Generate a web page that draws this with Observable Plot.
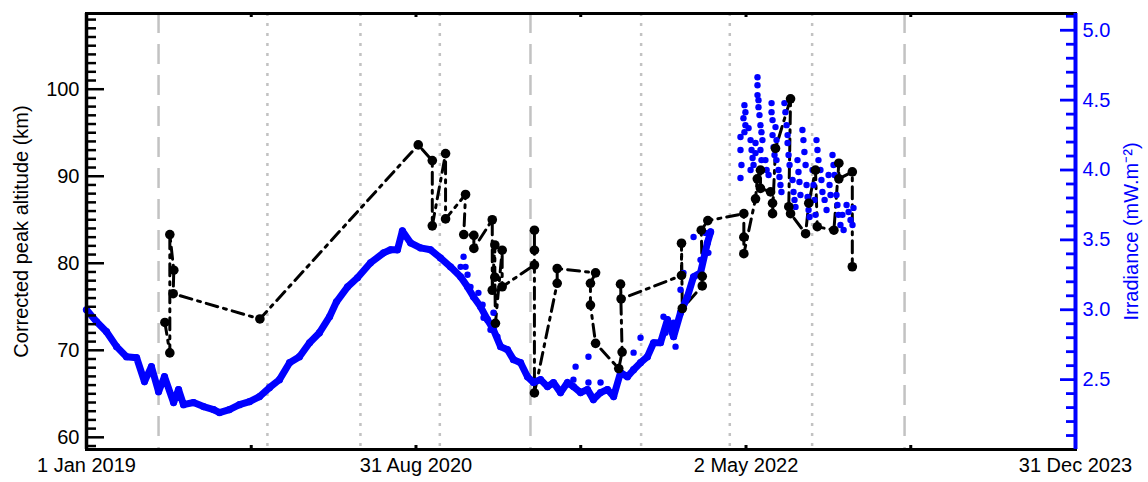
<!DOCTYPE html>
<html><head><meta charset="utf-8">
<script src="https://cdn.jsdelivr.net/npm/d3@7"></script>
<script src="https://cdn.jsdelivr.net/npm/@observablehq/plot@0.6"></script>
<style>body{margin:0;background:#fff}</style>
</head><body><div id="chart"></div>
<script>
// ---------- data (dates as decimal years) ----------
const xTickDates = ["2019-01-01","2019-11-01","2020-08-31","2021-07-01","2022-05-02","2023-03-02","2023-12-31"];
const xTickLabels = ["1 Jan 2019","","31 Aug 2020","","2 May 2022","","31 Dec 2023"];
const kmMajor = [60,70,80,90,100];
const irrMajor = [2.5,3.0,3.5,4.0,4.5,5.0];
const guideDashed = [2019.364, 2021.243, 2023.133];
const guideDotted = [2019.914, 2020.384, 2020.785, 2021.802, 2022.250, 2022.666];

// Irradiance, continuous record
const blueYear = [2019.000,2019.051,2019.101,2019.152,2019.202,2019.253,2019.293,2019.328,2019.364,2019.394,2019.440,2019.465,2019.490,2019.541,2019.591,2019.642,2019.672,2019.722,2019.773,2019.824,2019.874,2019.925,2019.975,2020.026,2020.076,2020.127,2020.177,2020.228,2020.263,2020.319,2020.369,2020.435,2020.501,2020.536,2020.571,2020.596,2020.637,2020.687,2020.738,2020.788,2020.839,2020.890,2020.925,2020.955,2020.991,2021.026,2021.056,2021.092,2021.127,2021.157,2021.193,2021.228,2021.258,2021.294,2021.329,2021.359,2021.395,2021.430,2021.460,2021.496,2021.531,2021.561,2021.597,2021.632,2021.663,2021.698,2021.733,2021.764,2021.799,2021.834,2021.865,2021.900,2021.935,2021.966,2022.001,2022.036,2022.067,2022.102,2022.137,2022.153];
const blueIrr = [3.000,2.914,2.843,2.736,2.664,2.657,2.486,2.593,2.414,2.521,2.336,2.429,2.321,2.336,2.307,2.286,2.264,2.286,2.321,2.343,2.379,2.443,2.500,2.621,2.664,2.764,2.836,2.950,3.057,3.164,3.229,3.336,3.407,3.429,3.429,3.564,3.479,3.443,3.429,3.371,3.307,3.236,3.164,3.093,3.021,2.929,2.857,2.736,2.714,2.643,2.621,2.521,2.479,2.500,2.450,2.479,2.407,2.479,2.450,2.407,2.429,2.357,2.407,2.429,2.379,2.550,2.521,2.571,2.621,2.664,2.764,2.764,2.929,2.807,2.979,3.093,3.236,3.264,3.479,3.557];

// Irradiance, scattered samples
const scatterYear = [2020.905,2020.890,2020.915,2020.925,2020.940,2020.980,2021.001,2021.006,2021.056,2021.041,2021.076,2021.471,2021.460,2021.536,2021.536,2021.597,2021.799,2021.764,2021.915,2021.925,2021.966,2021.976,2022.016,2022.001,2022.067,2022.102,2022.112,2022.127,2022.142,
2022.304,2022.304,2022.309,2022.304,2022.319,2022.324,2022.329,2022.329,2022.324,2022.345,2022.355,2022.360,2022.365,2022.370,2022.355,2022.380,2022.380,2022.390,2022.390,2022.390,2022.395,2022.395,2022.400,2022.405,2022.410,2022.415,2022.405,2022.410,2022.430,2022.436,2022.446,2022.461,2022.461,2022.466,2022.466,2022.471,2022.476,2022.481,2022.486,2022.486,2022.496,2022.501,2022.506,2022.511,2022.526,2022.531,2022.537,2022.542,2022.542,2022.547,2022.552,2022.567,2022.572,2022.577,2022.582,2022.592,2022.597,2022.602,2022.607,2022.617,2022.622,2022.627,2022.633,2022.638,2022.643,2022.648,2022.653,2022.668,2022.673,2022.678,2022.683,2022.688,2022.693,2022.698,2022.708,2022.713,2022.718,2022.729,2022.739,2022.749,2022.754,2022.759,2022.769,2022.774,2022.779,2022.789,2022.794,2022.799,2022.809,2022.819,2022.825,2022.840,2022.850,2022.860,2022.870,2022.875];
const scatterIrr = [3.379,3.307,3.307,3.250,3.164,3.121,3.036,2.943,2.979,2.857,2.807,2.593,2.500,2.664,2.479,2.479,2.800,2.693,2.950,2.836,2.907,2.736,3.264,3.143,3.521,3.357,3.236,3.550,3.407,
4.236,4.143,4.036,3.943,4.371,4.464,4.414,4.321,4.271,4.300,4.214,4.143,4.086,4.036,4.000,4.193,4.121,4.664,4.607,4.536,4.500,4.450,4.393,4.321,4.271,4.214,4.143,4.071,4.071,4.000,3.964,4.479,4.414,4.357,4.250,4.164,4.107,4.307,4.214,4.071,4.000,3.950,3.893,3.843,4.479,4.414,4.321,4.250,4.193,4.107,4.036,3.929,3.843,3.786,3.736,4.071,3.986,3.914,3.821,4.286,4.214,4.129,4.036,3.893,3.807,3.714,3.664,4.000,3.893,3.786,3.679,4.214,4.143,4.071,4.000,3.929,3.843,3.786,3.714,3.964,3.893,3.821,4.107,4.036,3.964,3.821,3.750,3.679,3.607,3.679,3.571,3.750,3.700,3.643,3.607,3.729];

// Corrected peak altitude (km)
const peakYear = [2019.396,2019.421,2019.421,2019.441,2019.438,2019.876,
2020.676,2020.747,2020.747,2020.814,2020.814,2020.915,2020.906,2020.957,2020.957,
2021.050,2021.050,2021.063,2021.063,2021.066,2021.100,2021.100,
2021.263,2021.263,2021.263,2021.263,
2021.378,2021.378,
2021.572,2021.546,2021.546,2021.572,
2021.689,2021.706,2021.698,2021.701,
2022.006,2022.006,2022.010,
2022.111,2022.111,2022.106,2022.139,
2022.321,2022.321,2022.321,2022.380,2022.389,2022.405,2022.405,
2022.456,2022.466,2022.466,2022.481,2022.557,2022.548,2022.557,
2022.633,2022.649,2022.683,2022.692,2022.776,2022.801,2022.801,2022.869,2022.869];
const peakKm = [73.2,69.7,83.3,79.2,76.5,73.6,
93.6,91.8,84.3,92.6,85.1,87.9,83.3,83.2,81.7,
85.0,76.9,82.1,78.4,73.1,81.5,77.3,
79.8,83.8,81.5,65.1,
77.7,79.4,
78.9,77.7,75.2,70.8,
67.9,69.8,77.6,75.9,
78.6,82.3,74.8,
77.4,78.5,83.8,84.9,
85.7,83.0,81.1,87.4,89.7,90.7,88.6,
88.2,86.9,85.7,93.2,98.9,86.5,85.7,
83.4,86.9,90.7,84.2,83.8,91.5,89.7,90.5,79.6];

// ---------- layout ----------
const W = 1148, H = 482, mL = 86, mR = 73, mT = 13, mB = 33;
const plotW = W - mL - mR, plotH = H - mT - mB;
const KM = [58.6, 108.7], IRR = [2.0, 5.12];
const irrToKm = v => KM[0] + (v - IRR[0]) * (KM[1] - KM[0]) / (IRR[1] - IRR[0]);
const kmToIrr = v => IRR[0] + (v - KM[0]) * (IRR[1] - IRR[0]) / (KM[1] - KM[0]);
const T0 = Date.UTC(2019, 0, 1);
const yd = y => new Date(T0 + (y - 2019) * 365.25 * 864e5);
const BLUE = "#0000ff", GUIDE = "#c2c2c2";

const kmMinor = d3.range(59, 109, 1).filter(v => v % 10 !== 0);
const irrMinor = d3.range(21, 52, 1).map(v => v / 10).filter(v => Math.abs(v * 2 - Math.round(v * 2)) > 1e-6);

const blue = blueYear.map((y, i) => ({date: yd(y), v: irrToKm(blueIrr[i])}));
const scatter = scatterYear.map((y, i) => ({date: yd(y), v: irrToKm(scatterIrr[i])}));
const peaks = peakYear.map((y, i) => ({date: yd(y), v: peakKm[i]}));
const xTicks = xTickDates.map(d => new Date(d + "T00:00:00Z"));
const labelMap = new Map(xTicks.map((d, i) => [+d, xTickLabels[i]]));
const xLabelTicks = xTicks.filter((d, i) => xTickLabels[i] !== "");

const chart = Plot.plot({
  width: W, height: H,
  marginLeft: mL, marginRight: mR, marginTop: mT, marginBottom: mB,
  style: {fontFamily: "'Liberation Sans', Arial, sans-serif", fontSize: "20px", background: "#fff", color: "#000"},
  x: {type: "utc", domain: [xTicks[0], xTicks[xTicks.length - 1]], label: null},
  y: {domain: KM, label: null},
  marks: [
    Plot.ruleX(guideDashed.map(yd), {stroke: GUIDE, strokeWidth: 2.5, strokeDasharray: "20,11"}),
    Plot.ruleX(guideDotted.map(yd), {stroke: GUIDE, strokeWidth: 2.5, strokeDasharray: "3,7"}),
    Plot.line(peaks, {x: "date", y: "v", stroke: "#000", strokeWidth: 3, strokeDasharray: "12,6,3,6"}),
    Plot.line(blue, {x: "date", y: "v", stroke: BLUE, strokeWidth: 7, strokeLinejoin: "round"}),
    Plot.dot(blue, {x: "date", y: "v", r: 3.6, fill: BLUE}),
    Plot.dot(scatter, {x: "date", y: "v", r: 3.2, fill: BLUE}),
    Plot.dot(peaks, {x: "date", y: "v", r: 4.8, fill: "#000"}),
    // ticks (pointing inward)
    Plot.tickY(kmMajor, {y: d => d, insetRight: plotW - 18, stroke: "#000", strokeWidth: 2.5}),
    Plot.tickY(kmMinor, {y: d => d, insetRight: plotW - 10, stroke: "#000", strokeWidth: 2.5}),
    Plot.tickY(irrMajor, {y: d => irrToKm(d), insetLeft: plotW - 15, stroke: BLUE, strokeWidth: 2.8}),
    Plot.tickY(irrMinor, {y: d => irrToKm(d), insetLeft: plotW - 9, stroke: BLUE, strokeWidth: 2.8}),
    Plot.tickX(xTicks, {x: d => d, insetTop: plotH - 4, stroke: "#000", strokeWidth: 3}),
    Plot.tickX(xTicks, {x: d => d, insetBottom: plotH - 4, stroke: "#000", strokeWidth: 3}),
    // frame
    Plot.frame({stroke: "#000", strokeWidth: 3}),
    Plot.ruleX([xTicks[0]], {stroke: "#000", strokeWidth: 3.5}),
    Plot.ruleX([xTicks[xTicks.length - 1]], {stroke: BLUE, strokeWidth: 4}),
    // axes labels
    Plot.axisY(kmMajor, {anchor: "left", tickSize: 0, tickPadding: 7, label: null, fontSize: 20, fill: "#000"}),
    Plot.axisY(irrMajor.map(irrToKm), {anchor: "right", tickSize: 0, tickPadding: 7, label: null, fontSize: 20, fill: BLUE, tickFormat: v => kmToIrr(v).toFixed(1)}),
    Plot.axisX(xLabelTicks, {anchor: "bottom", tickSize: 0, tickPadding: 8, label: null, fontSize: 20, fill: "#000", tickFormat: d => labelMap.get(+d)}),
    Plot.text(["Corrected peak altitude (km)"], {frameAnchor: "left", textAnchor: "middle", dx: -65, rotate: -90, fontSize: 20, fill: "#000"}),
    Plot.text(["Irradiance (mW.m\u207B\u00B2)"], {frameAnchor: "right", textAnchor: "middle", dx: 56, rotate: -90, fontSize: 20, fill: BLUE})
  ]
});
document.getElementById("chart").appendChild(chart);
</script>
</body></html>
